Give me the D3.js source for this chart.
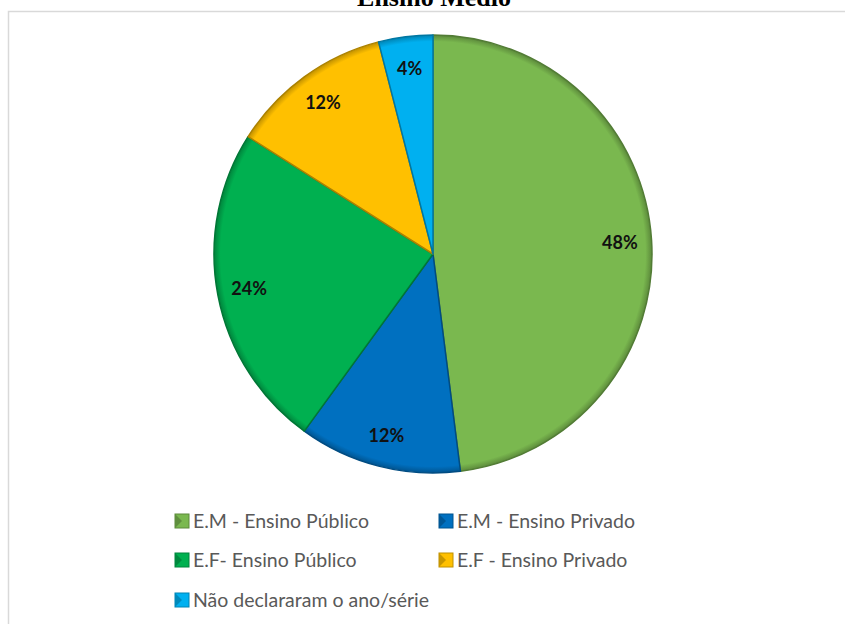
<!DOCTYPE html>
<html>
<head>
<meta charset="utf-8">
<script src="https://cdn.jsdelivr.net/npm/d3@7"></script>
<style>
  body { margin: 0; background: #fff; }
  #chart { width: 845px; height: 624px; }
</style>
</head>
<body>
<div id="chart"></div>
<script>
var categories = ['E.M - Ensino Público', 'E.M - Ensino Privado', 'E.F- Ensino Público', 'E.F - Ensino Privado', 'Não declararam o ano/série'];
var values = [48, 12, 24, 12, 4];
var colors = ['#7AB84F', '#0070C0', '#00B050', '#FFC000', '#00B0F0'];
var title = 'Ensino Médio';

var PieChart = function () {

  var id;

  function init(options) {
    id = options.id;
    draw();
  }

  function draw() {

    var container = d3.select('#' + id);
    var width = 845, height = 624;
    var cx = 433, cy = 254, radius = 219;

    var svg = container.append('svg')
      .attr('width', width)
      .attr('height', height);

    // chart area border
    svg.append('rect')
      .attr('x', 8.5)
      .attr('y', 11.5)
      .attr('width', 850)
      .attr('height', 640)
      .attr('fill', '#fff')
      .attr('stroke', '#D9D9D9')
      .attr('stroke-width', 1.5);

    // title (cut off at top like the original)
    svg.append('text')
      .attr('x', 434)
      .attr('y', 6)
      .attr('text-anchor', 'middle')
      .attr('font-family', 'Liberation Serif, Times New Roman, serif')
      .attr('font-weight', 'bold')
      .attr('font-size', 26)
      .text(title);

    var defs = svg.append('defs');

    // soft bevel-ish shading at the rim of each slice
    colors.forEach(function (c, i) {
      var grad = defs.append('radialGradient')
        .attr('id', 'grad' + i)
        .attr('gradientUnits', 'userSpaceOnUse')
        .attr('cx', 0).attr('cy', 0).attr('r', radius);
      grad.append('stop').attr('offset', '0%').attr('stop-color', c);
      grad.append('stop').attr('offset', '97%').attr('stop-color', c);
      grad.append('stop').attr('offset', '100%').attr('stop-color', d3.color(c).darker(0.8).toString());
    });

    var pie = d3.pie().sort(null).value(function (d) { return d; });
    var arcs = pie(values);

    var arc = d3.arc().innerRadius(0).outerRadius(radius);
    var labelArc = d3.arc().innerRadius(radius * 0.855).outerRadius(radius * 0.855);

    var g = svg.append('g')
      .attr('transform', 'translate(' + cx + ',' + cy + ')');

    g.selectAll('path.slice')
      .data(arcs)
      .enter()
      .append('path')
        .attr('class', 'slice')
        .attr('d', arc)
        .attr('fill', function (d, i) { return 'url(#grad' + i + ')'; })
        .attr('stroke', function (d, i) { return d3.color(colors[i]).darker(1.1).toString(); })
        .attr('stroke-width', 1.5)
        .attr('stroke-linejoin', 'round');

    g.selectAll('text.label')
      .data(arcs)
      .enter()
      .append('text')
        .attr('class', 'label')
        .attr('transform', function (d) { return 'translate(' + labelArc.centroid(d) + ')'; })
        .attr('text-anchor', 'middle')
        .attr('dy', '0.35em')
        .attr('font-family', 'Lato, sans-serif')
        .attr('font-weight', 'bold')
        .attr('font-size', 18)
        .attr('fill', '#111')
        .text(function (d) { return d.data + '%'; });

    // legend
    var legendPos = [[175, 521], [439, 521], [175, 560], [439, 560], [175, 600]];

    var legend = svg.append('g');
    var item = legend.selectAll('g')
      .data(categories)
      .enter()
      .append('g')
        .attr('transform', function (d, i) { return 'translate(' + legendPos[i][0] + ',' + legendPos[i][1] + ')'; });

    item.append('rect')
      .attr('x', 0)
      .attr('y', -7)
      .attr('width', 14)
      .attr('height', 14)
      .attr('fill', function (d, i) { return colors[i]; })
      .attr('stroke', function (d, i) { return d3.color(colors[i]).darker(0.8).toString(); })
      .attr('stroke-width', 1);

    item.append('path')
      .attr('d', 'M0,-7L7,0L0,7Z')
      .attr('fill', function (d, i) { return d3.color(colors[i]).darker(0.7).toString(); });

    item.append('text')
      .attr('x', 18)
      .attr('dy', '0.35em')
      .attr('font-family', 'Lato, sans-serif')
      .attr('font-size', 19.5)
      .attr('fill', '#595959')
      .text(function (d) { return d; });
  }

  return { init: init, draw: draw };
};

var chart = PieChart();
chart.init({ id: 'chart' });
</script>
</body>
</html>
